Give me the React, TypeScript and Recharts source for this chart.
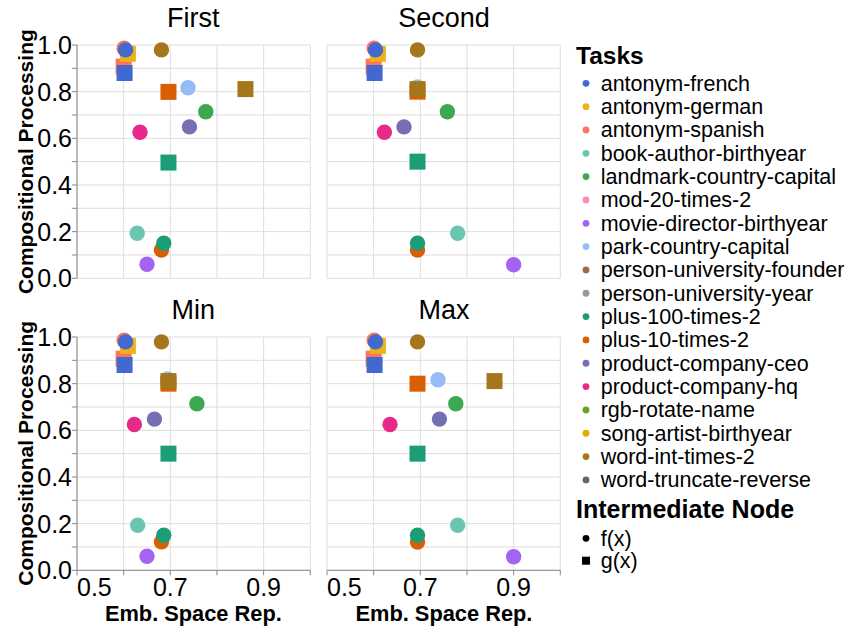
import React from "react";
import {
  ScatterChart,
  Scatter,
  XAxis,
  YAxis,
  ReferenceLine,
} from "recharts";

const tasks = [
  "antonym-french",
  "antonym-german",
  "antonym-spanish",
  "book-author-birthyear",
  "landmark-country-capital",
  "mod-20-times-2",
  "movie-director-birthyear",
  "park-country-capital",
  "person-university-founder",
  "person-university-year",
  "plus-100-times-2",
  "plus-10-times-2",
  "product-company-ceo",
  "product-company-hq",
  "rgb-rotate-name",
  "song-artist-birthyear",
  "word-int-times-2",
  "word-truncate-reverse",
];

const taskColors = [
  "#4269d0", "#efb118", "#ff725c", "#6cc5b0", "#3ca951", "#ff8ab7",
  "#a463f2", "#97bbf5", "#9c6b4e", "#9498a0", "#1b9e77", "#d95f02",
  "#7570b3", "#e7298a", "#66a61e", "#e6ab02", "#a6761d", "#666666",
];

// stacking order of the marks, bottom first
const drawOrder = [
  "antonym-spanish",
  "antonym-german",
  "antonym-french",
  "book-author-birthyear",
  "movie-director-birthyear",
  "landmark-country-capital",
  "product-company-ceo",
  "product-company-hq",
  "park-country-capital",
  "plus-10-times-2",
  "plus-100-times-2",
  "word-int-times-2",
];

type Pt = { task: string; x: number; y: number };

const firstF: Pt[] = [
  { task: "antonym-spanish", x: 0.601, y: 0.986 },
  { task: "antonym-french", x: 0.604, y: 0.979 },
  { task: "word-int-times-2", x: 0.681, y: 0.979 },
  { task: "park-country-capital", x: 0.738, y: 0.817 },
  { task: "landmark-country-capital", x: 0.776, y: 0.714 },
  { task: "product-company-ceo", x: 0.741, y: 0.649 },
  { task: "product-company-hq", x: 0.635, y: 0.626 },
  { task: "book-author-birthyear", x: 0.629, y: 0.193 },
  { task: "plus-100-times-2", x: 0.686, y: 0.15 },
  { task: "plus-10-times-2", x: 0.681, y: 0.121 },
  { task: "movie-director-birthyear", x: 0.65, y: 0.06 },
];
const firstG: Pt[] = [
  { task: "antonym-spanish", x: 0.6, y: 0.907 },
  { task: "antonym-german", x: 0.609, y: 0.962 },
  { task: "antonym-french", x: 0.602, y: 0.88 },
  { task: "plus-10-times-2", x: 0.696, y: 0.799 },
  { task: "plus-100-times-2", x: 0.696, y: 0.496 },
  { task: "word-int-times-2", x: 0.861, y: 0.811 },
];

const secondF: Pt[] = [
  { task: "antonym-spanish", x: 0.601, y: 0.986 },
  { task: "antonym-french", x: 0.604, y: 0.979 },
  { task: "word-int-times-2", x: 0.694, y: 0.979 },
  { task: "park-country-capital", x: 0.694, y: 0.82 },
  { task: "landmark-country-capital", x: 0.758, y: 0.714 },
  { task: "product-company-ceo", x: 0.665, y: 0.649 },
  { task: "product-company-hq", x: 0.623, y: 0.626 },
  { task: "book-author-birthyear", x: 0.78, y: 0.193 },
  { task: "plus-100-times-2", x: 0.694, y: 0.15 },
  { task: "plus-10-times-2", x: 0.694, y: 0.121 },
  { task: "movie-director-birthyear", x: 0.9, y: 0.058 },
];
const secondG: Pt[] = [
  { task: "antonym-spanish", x: 0.6, y: 0.907 },
  { task: "antonym-german", x: 0.609, y: 0.962 },
  { task: "antonym-french", x: 0.602, y: 0.88 },
  { task: "plus-10-times-2", x: 0.694, y: 0.8 },
  { task: "plus-100-times-2", x: 0.694, y: 0.5 },
  { task: "word-int-times-2", x: 0.694, y: 0.811 },
];

const minF: Pt[] = [
  { task: "antonym-spanish", x: 0.601, y: 0.986 },
  { task: "antonym-french", x: 0.604, y: 0.979 },
  { task: "word-int-times-2", x: 0.681, y: 0.979 },
  { task: "park-country-capital", x: 0.694, y: 0.82 },
  { task: "landmark-country-capital", x: 0.757, y: 0.714 },
  { task: "product-company-ceo", x: 0.666, y: 0.648 },
  { task: "product-company-hq", x: 0.623, y: 0.625 },
  { task: "book-author-birthyear", x: 0.63, y: 0.193 },
  { task: "plus-100-times-2", x: 0.686, y: 0.15 },
  { task: "plus-10-times-2", x: 0.681, y: 0.122 },
  { task: "movie-director-birthyear", x: 0.65, y: 0.06 },
];
const minG: Pt[] = [
  { task: "antonym-spanish", x: 0.6, y: 0.907 },
  { task: "antonym-german", x: 0.609, y: 0.962 },
  { task: "antonym-french", x: 0.602, y: 0.88 },
  { task: "plus-10-times-2", x: 0.696, y: 0.8 },
  { task: "plus-100-times-2", x: 0.696, y: 0.5 },
  { task: "word-int-times-2", x: 0.696, y: 0.811 },
];

const maxF: Pt[] = [
  { task: "antonym-spanish", x: 0.601, y: 0.986 },
  { task: "antonym-french", x: 0.604, y: 0.979 },
  { task: "word-int-times-2", x: 0.694, y: 0.979 },
  { task: "park-country-capital", x: 0.738, y: 0.817 },
  { task: "landmark-country-capital", x: 0.776, y: 0.714 },
  { task: "product-company-ceo", x: 0.741, y: 0.648 },
  { task: "product-company-hq", x: 0.635, y: 0.625 },
  { task: "book-author-birthyear", x: 0.78, y: 0.193 },
  { task: "plus-100-times-2", x: 0.694, y: 0.15 },
  { task: "plus-10-times-2", x: 0.694, y: 0.121 },
  { task: "movie-director-birthyear", x: 0.9, y: 0.058 },
];
const maxG: Pt[] = [
  { task: "antonym-spanish", x: 0.6, y: 0.907 },
  { task: "antonym-german", x: 0.609, y: 0.962 },
  { task: "antonym-french", x: 0.602, y: 0.88 },
  { task: "plus-10-times-2", x: 0.694, y: 0.8 },
  { task: "plus-100-times-2", x: 0.694, y: 0.5 },
  { task: "word-int-times-2", x: 0.859, y: 0.811 },
];

const xTicks = [0.5, 0.6, 0.7, 0.8, 0.9, 1.0];
const yTicks = [0, 0.1, 0.2, 0.3, 0.4, 0.5, 0.6, 0.7, 0.8, 0.9, 1.0];
const xLabelled = [5, 7, 9]; // tenths
const nodeLabels = ["f(x)", "g(x)"];

const FONT = "'Liberation Sans', Arial, sans-serif";
const GRID = "#dddddd";
const PLOT = 233.3;
const YW = 70;
const XH = 60;
const PT = 20;
const PR = 10;
const COLS = [76.7, 327.3];
const ROWS = [45, 336.7];

const colorOf = (task: string) => taskColors[tasks.indexOf(task)];

const XTick = (props: any) => {
  const { x, y, payload } = props;
  const t = Math.round(payload.value * 10);
  if (!xLabelled.includes(t)) return <g />;
  return (
    <text
      x={x}
      y={y + 19}
      textAnchor={t === 5 ? "start" : "middle"}
      fontSize={25}
      fontFamily={FONT}
      fill="#000"
    >
      {payload.value.toFixed(1)}
    </text>
  );
};

const YTick = (props: any) => {
  const { x, y, payload } = props;
  const t = Math.round(payload.value * 10);
  if (t % 2 !== 0) return <g />;
  return (
    <text
      x={x}
      y={y}
      textAnchor="end"
      dominantBaseline="central"
      fontSize={25}
      fontFamily={FONT}
      fill="#000"
    >
      {payload.value.toFixed(1)}
    </text>
  );
};

const circleShape = (color: string) => (p: any) =>
  <circle cx={p.cx} cy={p.cy} r={7.7} fill={color} />;

const squareShape = (color: string) => (p: any) =>
  <rect x={p.cx - 8} y={p.cy - 8} width={16} height={16} fill={color} />;

type PanelProps = {
  f: Pt[];
  g: Pt[];
  left: number;
  top: number;
  showX: boolean;
  showY: boolean;
};

const Panel = ({ f, g, left, top, showX, showY }: PanelProps) => (
  <div style={{ position: "absolute", left: left - YW, top: top - PT }}>
    <ScatterChart
      width={YW + PLOT + PR}
      height={PT + PLOT + XH}
      margin={{ top: PT, right: PR, bottom: 0, left: 0 }}
    >
      <XAxis
        type="number"
        dataKey="x"
        domain={[0.5, 1]}
        ticks={xTicks}
        height={XH}
        interval={0}
        tickSize={5}
        tickMargin={2}
        axisLine={showX ? { stroke: "#888" } : false}
        tickLine={showX ? { stroke: "#888" } : false}
        tick={showX ? XTick : false}
      />
      <YAxis
        type="number"
        dataKey="y"
        domain={[0, 1]}
        ticks={yTicks}
        width={YW}
        interval={0}
        tickSize={5}
        tickMargin={0}
        axisLine={showY ? { stroke: "#888" } : false}
        tickLine={showY ? { stroke: "#888" } : false}
        tick={showY ? YTick : false}
      />
      {/* grid: one line per tick, edges included so the panel gets a frame */}
      {yTicks.map((v) => (
        <ReferenceLine key={"h" + v} y={v} stroke={GRID} strokeWidth={1} />
      ))}
      {xTicks.map((v) => (
        <ReferenceLine key={"v" + v} x={v} stroke={GRID} strokeWidth={1} />
      ))}
      {drawOrder.map((task) => {
        const color = colorOf(task);
        const fd = f.filter((p) => p.task === task);
        const gd = g.filter((p) => p.task === task);
        return [
          fd.length > 0 && (
            <Scatter
              key={task + "-f"}
              data={fd}
              fill={color}
              shape={circleShape(color)}
              isAnimationActive={false}
            />
          ),
          gd.length > 0 && (
            <Scatter
              key={task + "-g"}
              data={gd}
              fill={color}
              shape={squareShape(color)}
              isAnimationActive={false}
            />
          ),
        ];
      })}
    </ScatterChart>
  </div>
);

const panels = [
  { title: "First", f: firstF, g: firstG },
  { title: "Second", f: secondF, g: secondG },
  { title: "Min", f: minF, g: minG },
  { title: "Max", f: maxF, g: maxG },
];

export default function App() {
  return (
    <div
      style={{
        position: "absolute",
        left: 0,
        top: 0,
        width: 849,
        height: 629,
        background: "#fff",
        fontFamily: FONT,
      }}
    >
      {panels.map((p, i) => {
        const col = i % 2;
        const row = Math.floor(i / 2);
        return (
          <Panel
            key={p.title}
            f={p.f}
            g={p.g}
            left={COLS[col]}
            top={ROWS[row]}
            showX={row === 1}
            showY={col === 0}
          />
        );
      })}

      {/* panel titles, axis titles and legends */}
      <svg
        width={849}
        height={629}
        style={{ position: "absolute", left: 0, top: 0, pointerEvents: "none" }}
        fontFamily={FONT}
      >
        {panels.map((p, i) => {
          const col = i % 2;
          const row = Math.floor(i / 2);
          return (
            <text
              key={p.title}
              x={COLS[col] + PLOT / 2}
              y={ROWS[row] - 17.7}
              textAnchor="middle"
              fontSize={27}
              fill="#000"
            >
              {p.title}
            </text>
          );
        })}
        {ROWS.map((top) => (
          <text
            key={top}
            transform={`translate(33, ${top + PLOT / 2}) rotate(-90)`}
            textAnchor="middle"
            fontSize={21}
            fontWeight="bold"
            fill="#000"
          >
            Compositional Processing
          </text>
        ))}
        {COLS.map((left) => (
          <text
            key={left}
            x={left + PLOT / 2}
            y={621}
            textAnchor="middle"
            fontSize={21.8}
            fontWeight="bold"
            fill="#000"
          >
            Emb. Space Rep.
          </text>
        ))}

        <text x={576} y={64} fontSize={24.5} fontWeight="bold" fill="#000">
          Tasks
        </text>
        {tasks.map((t, i) => (
          <g key={t}>
            <circle cx={586} cy={83.3 + i * 23.33} r={3.4} fill={taskColors[i]} />
            <text x={600.7} y={90.7 + i * 23.33} fontSize={21.5} fill="#000">
              {t}
            </text>
          </g>
        ))}

        <text x={576} y={518.3} fontSize={25} fontWeight="bold" fill="#000">
          Intermediate Node
        </text>
        <circle cx={586} cy={538.3} r={3.4} fill="#000" />
        <text x={600.7} y={545.7} fontSize={21.5} fill="#000">
          {nodeLabels[0]}
        </text>
        <rect x={582} y={556.7} width={8} height={8} fill="#000" />
        <text x={600.7} y={568.1} fontSize={21.5} fill="#000">
          {nodeLabels[1]}
        </text>
      </svg>
    </div>
  );
}
